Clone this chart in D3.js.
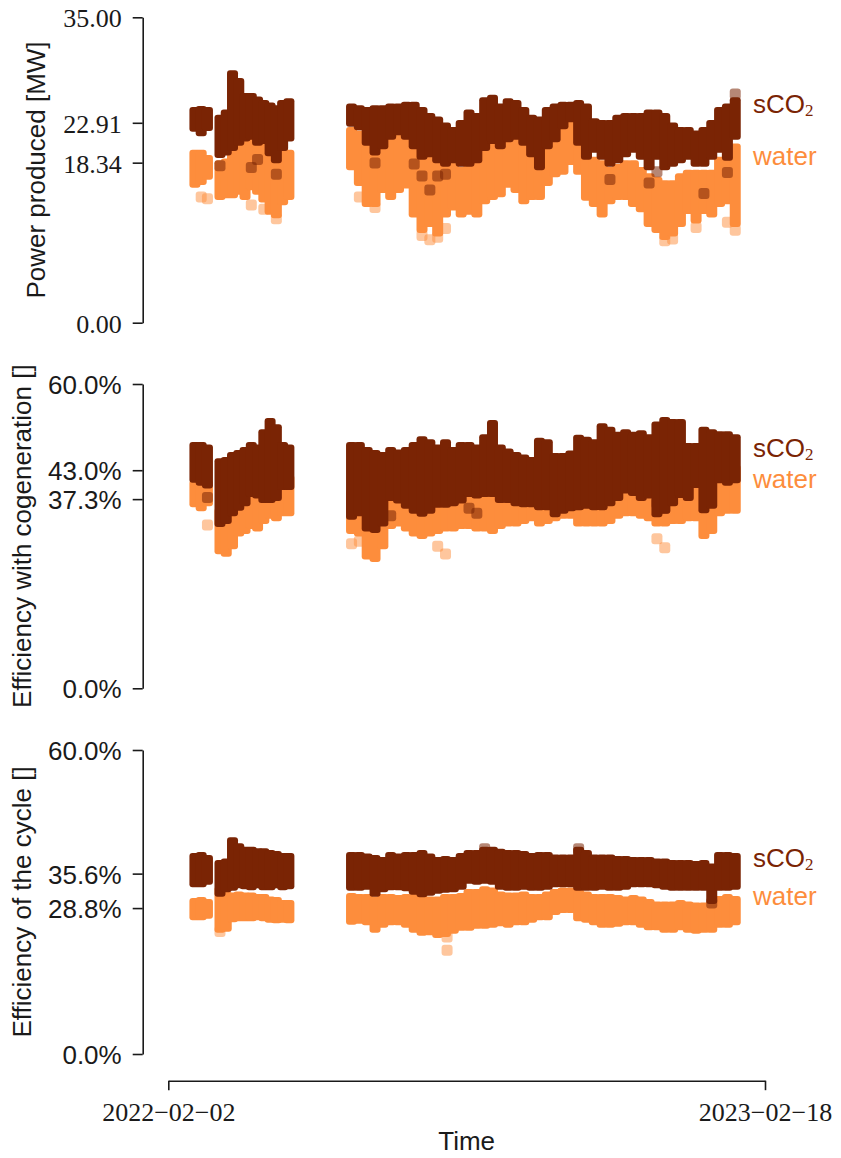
<!DOCTYPE html>
<html>
<head>
<meta charset="utf-8">
<script src="https://cdn.jsdelivr.net/npm/d3@7"></script>
<style>
  body { margin: 0; background: #fff; }
  .axis path, .axis line { stroke: #1a1a1a; stroke-width: 1.6px; }
  .axis.serif text { font-family: "Liberation Serif", "DejaVu Serif", serif; font-size: 26px; fill: #1a1a1a; }
  .axis.sans text { font-family: "Liberation Sans", Arial, sans-serif; font-size: 26px; fill: #1a1a1a; }
  .label { font-family: "Liberation Sans", Arial, sans-serif; font-size: 26px; fill: #1a1a1a; }
</style>
</head>
<body>
<svg width="841" height="1158"></svg>
<script>
// days after 2022-02-02
const days = [17, 21, 25, 33, 37, 41, 45, 49, 53, 57, 61, 65, 69, 73, 77,
  117, 122, 127, 132, 137, 142, 147, 152, 157, 162,
  167, 172, 177, 182, 187, 192, 197, 202, 207, 212,
  217, 222, 227, 232, 237, 242, 247, 252, 257, 262,
  267, 272, 277, 282, 287, 292, 297, 302, 307, 312,
  317, 322, 327, 332, 337, 342, 347, 352, 357, 362];

// [low, high] per day, MW
const powerSco2 = [
  [22.5,24.1],[22.0,24.2],[22.6,24.1],[19.5,23.2],[19.8,23.8],
  [20.3,28.3],[20.9,27.4],[21.4,25.7],[21.6,25.7],[20.9,25.3],
  [21.1,24.9],[19.7,24.6],[18.9,24.3],[20.3,24.9],[21.4,25.1],
  [23.1,24.5],[22.7,24.3],[20.9,24.1],[19.8,24.3],[20.5,24.3],
  [21.6,24.5],[22.1,24.5],[21.6,24.7],[20.5,24.7],[19.3,24.1],
  [19.6,23.4],[18.9,23.0],[18.5,22.3],[18.9,21.8],[18.5,22.6],
  [18.5,23.8],[18.9,23.4],[20.3,25.2],[21.1,25.5],[20.5,24.5],
  [21.3,25.1],[21.6,24.9],[20.9,24.1],[19.6,23.2],[18.1,23.0],
  [20.5,24.1],[21.3,24.5],[22.8,24.7],[23.6,24.7],[20.9,24.9],
  [19.3,24.5],[20.1,22.8],[19.3,22.6],[18.5,22.6],[18.9,23.2],
  [19.6,23.4],[20.1,23.4],[19.3,23.4],[18.1,23.8],[19.3,23.8],
  [18.1,23.4],[18.5,22.3],[18.9,21.8],[19.3,21.8],[18.5,21.4],
  [18.5,21.8],[19.3,22.6],[20.1,24.1],[19.2,24.5],[21.6,25.2]
];
const powerWater = [
  [16.1,19.2],[16.4,19.2],[17.0,18.6],[14.7,18.0],[14.9,18.2],
  [14.9,20.9],[15.3,21.5],[14.7,21.8],[15.8,21.5],[15.3,20.9],
  [14.4,20.3],[13.0,19.7],[12.6,19.7],[14.1,19.4],[14.7,19.2],
  [18.1,21.8],[16.3,21.4],[13.9,20.6],[13.9,19.9],[15.5,20.3],
  [14.7,21.1],[15.5,21.4],[16.0,21.1],[12.7,20.3],[10.9,19.2],
  [11.6,18.8],[10.5,18.0],[12.7,17.9],[13.5,18.0],[12.7,17.2],
  [13.0,18.0],[12.7,18.4],[14.2,20.6],[14.7,21.1],[15.0,20.3],
  [16.1,21.8],[15.5,21.8],[14.2,19.9],[14.7,18.8],[14.7,18.8],
  [16.3,21.1],[17.3,21.8],[17.6,22.6],[18.7,23.0],[17.6,22.6],
  [14.6,19.2],[13.9,18.4],[12.7,18.0],[14.2,17.2],[14.7,17.6],
  [14.7,18.0],[13.9,18.0],[13.3,17.2],[11.6,16.5],[10.9,16.1],
  [10.1,15.7],[10.5,15.7],[11.6,16.5],[13.1,16.9],[12.0,16.9],
  [13.1,16.9],[12.7,16.9],[13.9,18.4],[14.2,19.5],[11.6,19.9]
];
// single scattered points [day, value]
const powerSco2Out = [[33,18.0],[53,17.8],[57,18.7],[69,17.0],[132,18.3],[157,18.2],[162,16.8],
  [167,15.2],[172,16.8],[177,17.0],[282,16.4],[307,16.0],[312,17.3],[342,14.8],[357,17.2],[362,26.2]];
const powerWaterOut = [[21,14.4],[25,14.2],[53,13.5],[61,13.0],[69,11.9],[122,14.4],[132,13.2],[162,10.0],
  [167,9.5],[172,9.8],[177,10.8],[317,9.4],[322,9.6],[337,10.9],[357,11.5],[362,10.6]];

// efficiency with cogeneration, %
const cogenSco2 = [
  [41.6,47.5],[41.0,47.5],[40.5,47.0],[32.9,44.3],[33.5,44.5],
  [35.0,45.5],[36.1,45.9],[37.0,46.5],[38.8,47.5],[38.5,47.0],
  [37.6,50.0],[37.6,52.2],[38.0,51.0],[40.2,47.5],[40.2,47.0],
  [34.3,47.5],[35.0,47.5],[32.0,46.5],[31.7,45.9],[33.0,45.5],
  [38.0,46.5],[37.5,46.0],[36.5,46.5],[35.5,47.5],[34.9,48.6],
  [35.5,48.0],[36.7,47.0],[36.7,48.0],[37.0,46.5],[37.5,47.5],
  [38.8,47.5],[38.5,47.0],[38.8,49.0],[38.8,51.8],[37.6,47.0],
  [37.6,46.2],[37.0,45.5],[36.8,45.0],[36.8,44.5],[36.2,48.3],
  [36.2,48.0],[34.8,45.3],[35.5,45.3],[36.0,45.8],[36.2,48.9],
  [36.5,48.5],[36.2,48.0],[36.2,51.2],[37.0,50.5],[38.0,49.5],
  [39.5,50.0],[39.0,49.5],[38.0,49.8],[38.5,49.0],[34.8,51.5],
  [35.5,52.4],[37.0,52.0],[38.6,52.0],[38.0,47.3],[40.6,47.3],
  [35.6,50.5],[36.5,50.0],[41.5,49.6],[41.0,49.6],[41.5,49.0]
];
const cogenWater = [
  [36.8,40.0],[36.0,40.4],[37.0,40.0],[27.5,34.5],[27.0,34.0],
  [28.5,36.0],[31.0,37.5],[31.5,38.0],[32.5,39.0],[32.0,39.0],
  [33.5,39.5],[34.5,40.0],[34.0,40.5],[35.0,41.0],[35.0,41.0],
  [31.5,38.0],[31.0,37.5],[26.5,34.0],[26.0,33.5],[28.5,35.0],
  [32.5,38.0],[33.0,38.5],[32.0,37.5],[31.0,37.0],[30.5,36.5],
  [31.0,37.5],[31.5,37.5],[32.0,38.0],[32.0,38.5],[32.5,39.0],
  [32.5,39.0],[32.0,39.5],[32.0,40.0],[31.5,40.0],[32.5,39.0],
  [33.0,39.5],[33.0,39.5],[33.5,39.5],[34.0,39.0],[33.0,39.0],
  [33.5,38.5],[34.0,38.0],[34.5,38.5],[34.5,39.0],[33.0,40.0],
  [33.0,40.0],[33.0,40.5],[33.0,41.0],[33.5,41.0],[34.5,41.5],
  [35.0,42.0],[35.0,41.5],[34.5,41.5],[34.0,41.0],[33.0,39.5],
  [33.0,40.5],[33.5,41.0],[33.5,41.5],[34.0,41.5],[34.0,42.0],
  [30.5,38.5],[31.5,39.0],[35.0,42.5],[35.5,43.0],[35.5,43.0]
];
const cogenSco2Out = [[25,37.6],[142,34.0],[192,35.5],[197,34.5],[312,36.5],[317,35.5]];
const cogenWaterOut = [[25,32.2],[117,28.5],[122,29.0],[172,28.0],[177,26.5],[312,29.5],[317,27.7]];

// efficiency of the cycle, %
const cycleSco2 = [
  [34.0,38.6],[34.0,38.8],[34.5,38.2],[32.1,37.2],[33.0,37.5],
  [33.3,41.7],[33.8,40.5],[33.6,39.8],[33.4,39.8],[33.8,39.5],
  [33.4,39.5],[33.4,39.2],[33.8,39.0],[33.4,38.6],[33.6,38.6],
  [33.3,38.8],[33.3,38.8],[33.5,38.5],[32.1,38.2],[33.0,37.8],
  [33.4,38.8],[33.4,38.5],[33.2,38.8],[32.5,38.8],[32.0,39.2],
  [32.3,38.5],[32.7,37.8],[32.9,38.0],[33.0,37.8],[33.5,38.6],
  [34.7,39.2],[34.5,39.2],[34.7,39.8],[34.5,39.8],[33.5,39.4],
  [33.3,39.2],[33.3,39.2],[33.5,39.0],[33.3,38.6],[33.3,38.8],
  [33.5,38.8],[34.0,38.3],[34.0,38.3],[34.0,38.3],[33.3,39.8],
  [33.3,39.2],[33.3,38.3],[33.5,38.3],[33.3,38.3],[33.3,38.0],
  [33.5,38.0],[34.0,37.8],[34.0,37.8],[34.0,37.8],[33.8,37.5],
  [33.5,37.5],[33.3,37.2],[33.3,37.2],[33.3,37.2],[33.3,37.0],
  [33.3,37.2],[30.7,36.5],[33.3,38.8],[33.3,38.8],[33.5,38.6]
];
const cycleWater = [
  [27.5,29.7],[27.5,29.9],[27.8,29.5],[25.0,32.0],[25.2,31.0],
  [27.1,30.8],[27.3,31.0],[27.3,30.8],[27.3,30.8],[27.5,30.5],
  [27.3,30.5],[27.0,30.0],[26.9,29.9],[27.0,29.3],[26.9,29.3],
  [26.6,30.7],[26.8,30.5],[26.5,30.5],[25.0,30.0],[26.0,30.5],
  [26.5,30.5],[26.5,30.3],[26.0,30.5],[25.0,30.5],[24.4,30.3],
  [24.5,30.0],[24.0,30.0],[24.2,30.5],[24.8,30.5],[25.4,30.7],
  [25.4,31.5],[25.8,31.5],[25.8,32.0],[26.0,31.8],[26.3,31.0],
  [26.0,30.8],[26.5,30.8],[26.5,31.0],[27.0,30.5],[27.5,30.5],
  [27.5,31.0],[28.5,31.5],[28.9,31.8],[28.9,31.8],[27.3,31.5],
  [27.0,31.0],[26.5,30.5],[26.0,30.5],[26.0,30.5],[26.2,30.3],
  [26.5,30.0],[26.5,30.3],[26.0,30.0],[25.5,29.5],[25.5,29.0],
  [25.0,29.0],[25.0,29.0],[25.5,29.3],[25.0,29.0],[24.8,28.8],
  [25.0,28.8],[25.0,29.3],[26.0,30.1],[26.0,30.5],[26.5,30.1]
];
const cycleSco2Out = [[202,40.5],[262,40.5],[347,29.8]];
const cycleWaterOut = [[178,23.1],[178,20.5],[33,24.2]];

const powerTicks = [0, 18.34, 22.91, 35];
const cogenTicks = [0, 37.3, 43.0, 60];
const cycleTicks = [0, 28.8, 35.6, 60];
const timeTicks = ["2022-02-02", "2023-02-18"];

const colSco2 = "#7a2404", colWater = "#fd8d3c";

const svg = d3.select("svg");
const parse = d3.timeParse("%Y-%m-%d");
const t0 = parse(timeTicks[0]), t1 = parse(timeTicks[1]);
const x = d3.scaleTime().domain([t0, t1]).range([168.3, 765]);
const xd = d => x(d3.timeDay.offset(t0, d));
const axisX = 142.7, m = 5.5;

const panels = [
  { top: 17.3, bottom: 322.7, max: 35, ticks: powerTicks, fmt: d3.format(".2f"), cls: "serif",
    label: "Power produced [MW]", labelX: 45, sco2: powerSco2, water: powerWater,
    sco2Out: powerSco2Out, waterOut: powerWaterOut, legend: [113, 165] },
  { top: 384, bottom: 688.3, max: 60, ticks: cogenTicks, fmt: v => v.toFixed(1) + "%", cls: "sans",
    label: "Efficiency with cogeneration []", labelX: 31, sco2: cogenSco2, water: cogenWater,
    sco2Out: cogenSco2Out, waterOut: cogenWaterOut, legend: [457, 488] },
  { top: 750, bottom: 1054, max: 60, ticks: cycleTicks, fmt: v => v.toFixed(1) + "%", cls: "sans",
    label: "Efficiency of the cycle []", labelX: 31, sco2: cycleSco2, water: cycleWater,
    sco2Out: cycleSco2Out, waterOut: cycleWaterOut, legend: [867, 905] }
];

panels.forEach(p => {
  const y = d3.scaleLinear().domain([0, p.max]).range([p.bottom, p.top]);
  const g = svg.append("g");

  const bands = (data, color) => g.append("g").selectAll("rect")
    .data(data.map((r, i) => ({ d: days[i], lo: r[0], hi: r[1] })))
    .join("rect")
    .attr("x", d => xd(d.d) - m).attr("width", 2 * m)
    .attr("y", d => y(d.hi) - m).attr("height", d => y(d.lo) - y(d.hi) + 2 * m)
    .attr("rx", 3).attr("fill", color);

  const singles = (data, color, op) => g.append("g").selectAll("rect")
    .data(data).join("rect")
    .attr("x", d => xd(d[0]) - m).attr("width", 2 * m)
    .attr("y", d => y(d[1]) - m).attr("height", 2 * m)
    .attr("rx", 3).attr("fill", color).attr("fill-opacity", op);

  singles(p.waterOut, colWater, 0.5);
  bands(p.water, colWater);
  singles(p.sco2Out, colSco2, 0.55);
  bands(p.sco2, colSco2);

  const ax = svg.append("g").attr("class", "axis " + p.cls)
    .attr("transform", `translate(${axisX},0)`)
    .call(d3.axisLeft(y).tickValues(p.ticks).tickFormat(p.fmt)
      .tickSize(10).tickSizeOuter(0).tickPadding(11));
  ax.selectAll("text").attr("dy", "0.36em");

  svg.append("text").attr("class", "label")
    .attr("transform", `translate(${p.labelX},${(p.top + p.bottom) / 2}) rotate(-90)`)
    .attr("text-anchor", "middle").text(p.label);

  const lg = svg.append("text").attr("class", "label").attr("x", 753).attr("y", p.legend[0]).attr("fill", colSco2);
  lg.append("tspan").text("sCO").attr("fill", colSco2);
  lg.append("tspan").text("2").attr("dy", 3).attr("fill", colSco2)
    .style("font-family", "'Liberation Serif', serif").style("font-size", "17px");
  svg.append("text").attr("class", "label").attr("x", 753).attr("y", p.legend[1])
    .style("fill", colWater).text("water");
});

svg.append("g").attr("class", "axis serif")
  .attr("transform", "translate(0,1080.7)")
  .call(d3.axisBottom(x).tickValues([t0, t1]).tickFormat(d3.timeFormat("%Y\u2212%m\u2212%d"))
    .tickSize(9.5).tickSizeOuter(0).tickPadding(12));

svg.append("text").attr("class", "label").attr("x", (168.3 + 765) / 2).attr("y", 1150)
  .attr("text-anchor", "middle").text("Time");
</script>
</body>
</html>
